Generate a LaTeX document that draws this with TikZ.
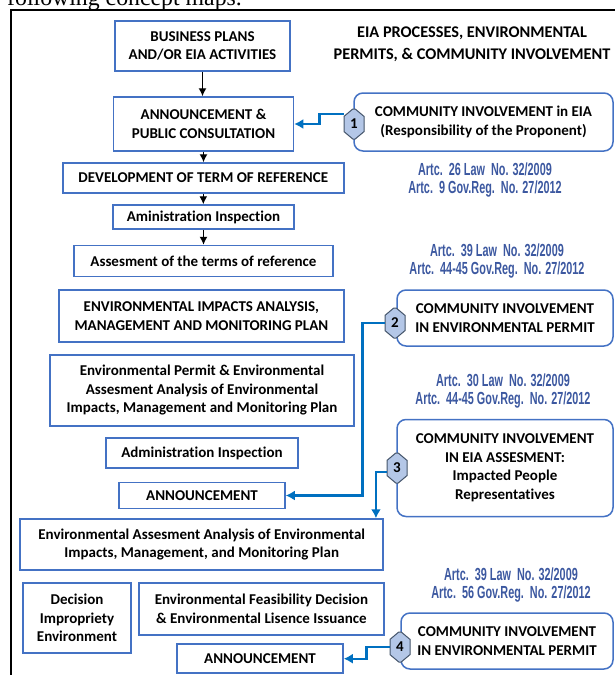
\documentclass[tikz,border=0pt]{standalone}
\usepackage{fontspec}
\setmainfont{Carlito}[Ligatures=NoCommon]
\newfontfamily\artfont[FakeStretch=0.62]{Liberation Sans}
\newfontfamily\pagefont{Liberation Serif}
\usetikzlibrary{arrows.meta,positioning,shapes.misc,calc}

\definecolor{boxblue}{RGB}{68,114,196}
\definecolor{lineblue}{RGB}{0,112,192}
\definecolor{artblue}{RGB}{60,88,160}
\definecolor{badgefill}{RGB}{180,199,231}
\definecolor{badgeedge}{RGB}{68,84,106}

\begin{document}
\begin{tikzpicture}[
            x = 1pt, y = -1pt, % picture in pixels of the reference
            > = {Latex[length=8pt,width=8pt]}, % arrow head style
            box/.style = {draw=boxblue, line width=1.5pt, align=center, inner sep=1pt,
                          font=\bfseries\fontsize{15}{18.5}\selectfont},
            cbox/.style = {box, rounded corners=9pt},
            badge/.style = {chamfered rectangle, chamfered rectangle xsep=5pt,
                            chamfered rectangle angle=50,
                            draw=badgeedge, fill=badgefill, line width=1pt,
                            minimum width=20pt, minimum height=30pt, inner sep=0pt,
                            font=\bfseries\fontsize{15}{18}\selectfont},
            art/.style = {align=center, text=artblue, inner sep=0pt,
                          font=\artfont\bfseries\fontsize{17.5}{18}\selectfont},
            flow/.style = {->, line width=1.3pt},
            link/.style = {-{Latex[length=9pt,width=10pt]}, draw=lineblue, line width=2.2pt}
        ]

	\useasboundingbox (0,0) rectangle (614,675);

	% page text and frame
	\node[anchor=base west, inner sep=0pt, font=\pagefont\fontsize{23.8}{28}\selectfont] (cap) at (7,5) {following concept maps.};
	\draw[line width=2pt] (11,700) -- (11,10) -- (700,10);

	\node[align=center, inner sep=0pt, font=\bfseries\fontsize{16.3}{22}\selectfont] (head) at (472,44) {EIA PROCESSES, ENVIRONMENTAL\\PERMITS, \& COMMUNITY INVOLVEMENT};

	% main column
	\node[box, minimum width=175pt, minimum height=50pt] (P) at (202.5,46) {BUSINESS PLANS\\AND/OR EIA ACTIVITIES};
	\node[box, minimum width=180pt, minimum height=54pt] (A1) at (203.5,124) {ANNOUNCEMENT \&\\PUBLIC CONSULTATION};
	\node[box, minimum width=281pt, minimum height=30pt] (T) at (203.3,178) {DEVELOPMENT OF TERM OF REFERENCE};
	\node[box, minimum width=181pt, minimum height=24pt] (I1) at (203.5,217) {Aministration Inspection};
	\node[box, minimum width=259pt, minimum height=31pt] (R) at (203.5,261) {Assesment of the terms of reference};
	\node[box, minimum width=285pt, minimum height=52pt] (M) at (201.4,316) {ENVIRONMENTAL IMPACTS ANALYSIS,\\MANAGEMENT AND MONITORING PLAN};
	\node[box, minimum width=304pt, minimum height=71pt] (E) at (202,390.5) {Environmental Permit \& Environmental\\Assesment Analysis of Environmental\\Impacts, Management and Monitoring Plan};
	\node[box, minimum width=192pt, minimum height=30pt] (I2) at (202,453) {Administration Inspection};
	\node[box, minimum width=166pt, minimum height=26pt] (A2) at (202,495.5) {ANNOUNCEMENT};
	\node[box, minimum width=363pt, minimum height=51pt] (S) at (201.7,544.5) {Environmental Assesment Analysis of Environmental\\Impacts, Management, and Monitoring Plan};
	\node[box, minimum width=108pt, minimum height=70pt] (D) at (77,618) {Decision\\Impropriety\\Environment};
	\node[box, minimum width=245pt, minimum height=52pt] (F) at (261.4,609) {Environmental Feasibility Decision\\\& Environmental Lisence Issuance};
	\node[box, minimum width=166pt, minimum height=29pt] (A3) at (260,658.7) {ANNOUNCEMENT};

	\draw[flow] (P.south) -- (P.south |- A1.north);
	\draw[flow] (A1.south) -- (A1.south |- T.north);
	\draw[flow] (T.south) -- (T.south |- I1.north);
	\draw[flow] (I1.south) -- (I1.south |- R.north);

	% regulations
	\node[art] (L1) at (485,180) {Artc.\ \ 26 Law\ \ No. 32/2009\\Artc.\ \ 9 Gov.Reg.\ \ No. 27/2012};
	\node[art] (L2) at (497,261.4) {Artc.\ \ 39 Law\ \ No. 32/2009\\Artc.\ \ 44-45 Gov.Reg.\ \ No. 27/2012};
	\node[art] (L3) at (503,391) {Artc.\ \ 30 Law\ \ No. 32/2009\\Artc.\ \ 44-45 Gov.Reg.\ \ No. 27/2012};
	\node[art] (L4) at (511,585) {Artc.\ \ 39 Law\ \ No. 32/2009\\Artc.\ \ 56 Gov.Reg.\ \ No. 27/2012};

	% community involvement
	\node[cbox, minimum width=259pt, minimum height=58pt] (K1) at (483.5,122) {COMMUNITY INVOLVEMENT in EIA\\(Responsibility of the Proponent)};
	\node[cbox, minimum width=216pt, minimum height=56pt] (K2) at (505,318) {COMMUNITY INVOLVEMENT\\IN ENVIRONMENTAL PERMIT};
	\node[cbox, minimum width=216pt, minimum height=97pt] (K3) at (505,468) {COMMUNITY INVOLVEMENT\\IN EIA ASSESMENT:\\Impacted People\\Representatives};
	\node[cbox, minimum width=212pt, minimum height=56pt] (K4) at (507,641) {COMMUNITY INVOLVEMENT\\IN ENVIRONMENTAL PERMIT};

	\node[badge] (B1) at (354,124) {1};
	\node[badge] (B2) at (395,323) {2};
	\node[badge] (B3) at (397,468) {3};
	\node[badge] (B4) at (400,647) {4};

	\draw[link] ($(B1.west)+(0,-10)$) -- ++(-24,0) |- (A1.east);
	\draw[link] (B2.west) -- ++(-22,0) |- (A2.east);
	\draw[link] ($(B3.west)+(0,4)$) -| ($(S.north east)+(-8,0)$);
	\draw[link] (B4.west) -- ++(-23,0) |- (A3.east);

\end{tikzpicture}
\end{document}
